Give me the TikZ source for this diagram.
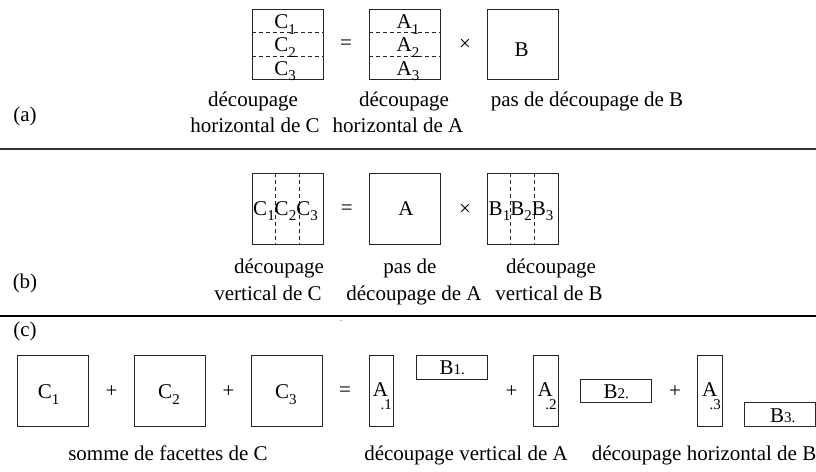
\documentclass[tikz,border=0pt]{standalone}
\usepackage{fontspec}
\setmainfont{Liberation Serif}
\usetikzlibrary{calc}
\newcommand\fsz{\fontsize{21}{26}\selectfont}
\newcommand\subsz{\fontsize{15}{15}\selectfont}
\newcommand\sbx[1]{\raisebox{-0.28em}{\subsz #1}}
\newcommand\dsb[1]{\kern-0.36em\raisebox{-0.6em}{\subsz #1}}
\begin{document}
\begin{tikzpicture}[x=1pt,y=-1pt,
  box/.style={draw=black!85, line width=0.9pt, inner sep=0},
  sq/.style={box, minimum width=71pt, minimum height=70.5pt},
  tall/.style={box, minimum width=24.3pt, minimum height=71pt},
  flat/.style={box, minimum width=71pt, minimum height=23.6pt},
  txt/.style={inner sep=0, anchor=base, font=\fsz},
  txw/.style={inner sep=0, anchor=base west, font=\fsz},
  op/.style={inner sep=0, font=\fsz},
  dsh/.style={draw=black!85, line width=0.9pt, dash pattern=on 4pt off 3pt},
  sep/.style={draw=black!80, line width=1.1pt}]
\useasboundingbox (0,0) rectangle (816,471);

% ---------- (a)
\node[sq] (Ca) at (287.5,44.5) {};
\node[sq] (Aa) at (404.7,44.5) {};
\node[sq] (Ba) at (522.5,44.5) {};
\foreach \b in {Ca,Aa}{
  \draw[dsh] ($(\b.north west)!1/3!(\b.south west)$) -- ($(\b.north east)!1/3!(\b.south east)$);
  \draw[dsh] ($(\b.north west)!2/3!(\b.south west)$) -- ($(\b.north east)!2/3!(\b.south east)$);
}
\node[txt] (ca1) at (285,28.3) {C\sbx{1}};
\node[txt] (ca2) at (285,51.6) {C\sbx{2}};
\node[txt] (ca3) at (285,75) {C\sbx{3}};
\node[txt] (aa1) at (408,28.3) {A\sbx{1}};
\node[txt] (aa2) at (408,51.6) {A\sbx{2}};
\node[txt] (aa3) at (408,75) {A\sbx{3}};
\node[txt] (ba) at (521.5,56) {B};
\node[op] (eqa) at (346,45) {=};
\node[op] (xa) at (465,45) {×};
\node[txt] (la1) at (253,106) {découpage};
\node[txt] (la2) at (255,132) {horizontal de C};
\node[txt] (la3) at (404,106) {découpage};
\node[txt] (la4) at (398,132) {horizontal de A};
\node[txt] (la5) at (587,106) {pas de découpage de B};
\node[txt] (pa) at (25,121) {(a)};
\coordinate (s1l) at (0,149);
\coordinate (s1r) at (816,149);
\draw[sep] (s1l) -- (s1r);

% ---------- (b)
\node[sq] (Cb) at (287.5,208.7) {};
\node[sq] (Ab) at (404.7,208.7) {};
\node[sq] (Bb) at (522.5,208.7) {};
\foreach \b in {Cb,Bb}{
  \draw[dsh] ($(\b.north west)!1/3!(\b.north east)$) -- ($(\b.south west)!1/3!(\b.south east)$);
  \draw[dsh] ($(\b.north west)!2/3!(\b.north east)$) -- ($(\b.south west)!2/3!(\b.south east)$);
}
\node[txt] (cb) at (285.5,215) {C\sbx{1}C\sbx{2}C\sbx{3}};
\node[txt] (ab) at (406,215) {A};
\node[txt] (bb) at (521,215) {B\sbx{1}B\sbx{2}B\sbx{3}};
\node[op] (eqb) at (346.7,210) {=};
\node[op] (xb) at (465,210) {×};
\node[txt] (lb1) at (279,273) {découpage};
\node[txt] (lb2) at (268,300) {vertical de C};
\node[txt] (lb3) at (410,273) {pas de};
\node[txt] (lb4) at (414,300) {découpage de A};
\node[txt] (lb5) at (551,273) {découpage};
\node[txt] (lb6) at (549,300) {vertical de B};
\node[txt] (pb) at (25,288) {(b)};
\coordinate (s2l) at (0,316);
\coordinate (s2r) at (816,316);
\draw[sep, draw=black] (s2l) -- (s2r);
\fill[black!60] (341,320.5) circle (0.6);

% ---------- (c)
\node[txt] (pc) at (25,336) {(c)};
\node[sq, minimum height=71pt] (C1) at (52.5,390.5) {};
\node[sq, minimum height=71pt] (C2) at (169.8,390.5) {};
\node[sq, minimum height=71pt] (C3) at (287.2,390.5) {};
\node[txt] (c1) at (48.7,398.3) {C\sbx{1}};
\node[txt] (c2) at (169,398.3) {C\sbx{2}};
\node[txt] (c3) at (285.8,398.3) {C\sbx{3}};
\node[op] (pl1) at (111.5,391.5) {+};
\node[op] (pl2) at (228.5,391.5) {+};
\node[op] (eqc) at (345,391.5) {=};
\node[tall] (A1) at (381.2,390.5) {};
\node[tall] (A2) at (545.8,390.5) {};
\node[tall] (A3) at (710,390.5) {};
\node[txw] (a1) at (372.7,396.5) {A\dsb{.1}};
\node[txw] (a2) at (537.5,396.5) {A\dsb{.2}};
\node[txw] (a3) at (701.8,396.5) {A\dsb{.3}};
\node[flat] (B1) at (451.7,367.2) {};
\node[flat] (B2) at (615.8,391) {};
\node[flat] (B3) at (780.2,414.7) {};
\node[txw] (b1) at (439.3,374) {B{\subsz 1.}};
\node[txw] (b2) at (603.3,398) {B{\subsz 2.}};
\node[txw] (b3) at (770,422) {B{\subsz 3.}};
\node[op] (pl3) at (511.5,391.5) {+};
\node[op] (pl4) at (675,391.5) {+};
\node[txt] (lc1) at (168,460) {somme de facettes de C};
\node[txt] (lc2) at (466,460) {découpage vertical de A};
\node[txt] (lc3) at (704,460) {découpage horizontal de B};
\end{tikzpicture}
\end{document}
